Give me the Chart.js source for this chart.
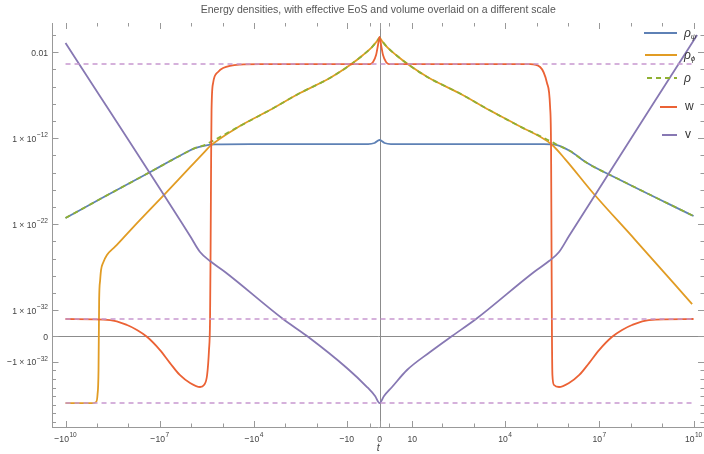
<!DOCTYPE html>
<html>
<head>
<meta charset="utf-8">
<script src="https://cdn.jsdelivr.net/npm/chart.js@4.4.1/dist/chart.umd.min.js"></script>
<style>
  html, body { margin: 0; padding: 0; background: #fff; }
  canvas { display: block; }
</style>
</head>
<body>
<canvas id="chart" width="704" height="454"></canvas>
<script>
// ---- data (t, value) ----
const psiT   = [-1e10, -7.9e8, -2e7, -4.7e6, -1.56e6, -7.5e5, -3.6e5, -1.7e5, -1.3e4, -1.3, -0.44, 0, 0.44, 1.3, 1.3e4, 1.7e5, 4.5e5, 1.17e6, 4.1e6, 4.6e7, 1e10];
const psiRho = [5.2e-22, 8.5e-20, 1.2e-16, 2.2e-15, 1.9e-14, 7.2e-14, 1.4e-13, 1.9e-13, 2.1e-13, 2.1e-13, 2.8e-13, 6.2e-13, 2.8e-13, 2.1e-13, 2.1e-13, 2.1e-13, 1.6e-13, 3.2e-14, 1.3e-15, 1.4e-17, 8.9e-22];

const phiT   = [-1e10, -1.3e9, -1.07e9, -9.6e8, -8.9e8, -8.5e8, -7.9e8, -7.4e8, -6.4e8, -4.8e8, -2.6e8, -1.1e8, -5.3e7, -7.8e6, -1.08e6, -3.6e5, -2.5e5, -2.8e4, -3.1e3, -340, -37, -7.7, -2.35, -0.74, -0.2, 0, 0.2, 0.74, 2.35, 7.7, 37, 340, 3.1e3, 2.8e4, 2.9e5, 8.1e5, 6.3e6, 1.4e8, 9e9];
const phiRho = [-6.2e-28, -6.2e-28, -4.7e-28, -7.2e-29, -8.9e-32, 1.5e-31, 3.2e-29, 4.7e-28, 3.1e-27, 2.6e-26, 2.6e-25, 7.6e-24, 1.3e-22, 2e-19, 4.3e-16, 3e-14, 1.2e-13, 2.6e-11, 1.9e-9, 1.8e-7, 1e-5, 3.2e-4, 4.7e-3, 4e-2, 0.2, 0.45, 0.2, 4e-2, 4.7e-3, 3.2e-4, 1e-5, 1.8e-7, 1.9e-9, 2.6e-11, 2.1e-13, 3.8e-15, 4.3e-19, 1.45e-24, 5.2e-32];

const rhoT   = [-1e10, -7.9e8, -2e7, -4.7e6, -1.56e6, -7.5e5, -3.6e5, -2.5e5, -2.8e4, -3.1e3, -340, -37, -7.7, -2.35, -0.74, -0.2, 0, 0.2, 0.74, 2.35, 7.7, 37, 340, 3.1e3, 2.8e4, 2.9e5, 4.5e5, 1.17e6, 4.1e6, 4.6e7, 1e10];
const rhoTot = [5.2e-22, 8.5e-20, 1.2e-16, 2.2e-15, 1.9e-14, 7.2e-14, 1.7e-13, 3.3e-13, 2.6e-11, 1.9e-9, 1.8e-7, 1e-5, 3.2e-4, 4.7e-3, 4e-2, 0.2, 0.45, 0.2, 4e-2, 4.7e-3, 3.2e-4, 1e-5, 1.8e-7, 1.9e-9, 2.6e-11, 4.2e-13, 1.7e-13, 3.2e-14, 1.3e-15, 1.4e-17, 8.9e-22];

const wT   = [-1e10, -3.8e8, -1.1e8, -5.3e7, -2.5e7, -9.8e6, -4.7e6, -2.3e6, -1.08e6, -5.2e5, -3.9e5, -3.1e5, -2.7e5, -2.5e5, -2.4e5, -2.3e5, -2.24e5, -2e5, -1.39e5, -9.6e4, -2.8e4, -6.4e3, -1, -0.61, -0.29, -0.12, 0,
              0.12, 0.29, 0.61, 1, 6.9e3, 6.3e4, 1.3e5, 2.15e5, 2.7e5, 2.9e5, 3e5, 3.1e5, 3.2e5, 3.6e5, 5.2e5, 1.08e6, 2.3e6, 4.7e6, 9.8e6, 2.5e7, 5.3e7, 1.1e8, 3.8e8, 1e10];
const wVal = [9.4e-34, 7.1e-34, 1.8e-34, 4e-35, -3e-36, -4.2e-34, -1.4e-32, -3.4e-31, -2.9e-30, -8.5e-30, -5e-30, -3.4e-31, -4.2e-34, 7.1e-34, 1e-25, 4.3e-14, 1.9e-9, 2.6e-6, 5e-5, 1.45e-4, 3.7e-4, 4.2e-4, 4.2e-4, 7.2e-4, 4.7e-3, 6.9e-2, 0.59,
              6.9e-2, 4.7e-3, 7.2e-4, 4.2e-4, 4.2e-4, 4.2e-4, 1.9e-4, 2.6e-6, 4.2e-9, 4.3e-14, 1e-25, -1.9e-35, -3.4e-31, -5e-30, -8.5e-30, -2.9e-30, -3.4e-31, -1.4e-32, -4.2e-34, -3e-36, 4e-35, 1.8e-34, 7.1e-34, 9.4e-34];

const vT   = [-1e10, -1.08e6, -5.2e5, -2.5e5, -8.3e4, -1.18e3, -203, -10, -1.5, -0.39, 0, 0.39, 1.5, 6.5, 39.7, 203, 1.18e3, 8.3e4, 2.5e5, 5.2e5, 1.08e6, 1.3e10];
const vVal = [0.12, 4.3e-24, 5.9e-26, 5.2e-27, 2.8e-28, 9.4e-34, 0, -5.2e-32, -8.5e-30, -9.5e-29, -6.2e-28, -9.5e-29, -8.5e-30, -8.9e-32, -7.1e-34, 0, 9.4e-34, 2.8e-28, 5.2e-27, 5.9e-26, 4.3e-24, 1.0];

// dashed reference levels, drawn across the data range
const refLevels = [4.2e-4, 9.4e-34, -6.2e-28];
const refRange = [-1e10, 1e10];

// axes: tick values and labels as [base, superscript]
const xTickValues = [-1e10, -1e7, -1e4, -10, 0, 10, 1e4, 1e7, 1e10];
const xTickLabels = [["−10", "10"], ["−10", "7"], ["−10", "4"], ["−10", ""], ["0", ""], ["10", ""], ["10", "4"], ["10", "7"], ["10", "10"]];
const xMinorTicks = [-1e9, -1e8, -1e6, -1e5, -1e3, -100, -1, 1, 100, 1e3, 1e5, 1e6, 1e8, 1e9];
const yTickValues = [0.01, 1e-12, 1e-22, 1e-32, 0, -1e-32];
const yTickLabels = [["0.01", ""], ["1 × 10", "−12"], ["1 × 10", "−22"], ["1 × 10", "−32"], ["0", ""], ["−1 × 10", "−32"]];
const yMinorTicks = [1, 1e-4, 1e-6, 1e-8, 1e-10, 1e-14, 1e-16, 1e-18, 1e-20, 1e-24, 1e-26, 1e-28, 1e-30,
                     -1e-31, -1e-30, -1e-29, -1e-28, -1e-27, -1e-26, -1e-25];

const seriesNames = ["ρψ", "ρϕ", "ρ", "w", "v"];
const colors = ["#5E81B5", "#E19C24", "#8FB032", "#EB6235", "#8778B3"];
const refColor = "rgb(200,152,208)";
const FONT = "'Liberation Sans', Arial, sans-serif";

// sign(v) * log10(1 + |v|/c) scale
class SymlogScale extends Chart.Scale {
  determineDataLimits() {
    this.min = this.options.min;
    this.max = this.options.max;
  }
  buildTicks() { return []; }
  fwd(v) {
    const c = this.options.threshold;
    return Math.sign(v) * Math.log10(1 + Math.abs(v) / c);
  }
  configure() {
    super.configure();
    this._lo = this.fwd(this.min);
    this._span = this.fwd(this.max) - this._lo;
  }
  getPixelForValue(v) {
    return this.getPixelForDecimal((this.fwd(v) - this._lo) / this._span);
  }
  getValueForPixel(p) {
    const f = this._lo + this.getDecimalForPixel(p) * this._span;
    return Math.sign(f) * this.options.threshold * (Math.pow(10, Math.abs(f)) - 1);
  }
  getLabelForValue(v) { return String(v); }
}
SymlogScale.id = "symlog";
SymlogScale.defaults = {};
Chart.register(SymlogScale);

function pts(ts, vs) {
  return ts.map((t, i) => ({ x: t, y: vs[i] }));
}

function series(i, ts, vs, order, dash) {
  return {
    label: seriesNames[i],
    data: pts(ts, vs),
    borderColor: colors[i],
    borderWidth: 1.8,
    borderDash: dash || [],
    pointRadius: 0,
    cubicInterpolationMode: "monotone",
    fill: false,
    order: order
  };
}

const datasets = [
  series(0, psiT, psiRho, 6),
  series(1, phiT, phiRho, 5),
  series(2, rhoT, rhoTot, 4, [5, 4]),
  series(3, wT, wVal, 3),
  series(4, vT, vVal, 2)
];
refLevels.forEach((lv) => {
  datasets.push({
    label: "ref",
    data: pts(refRange, [lv, lv]),
    borderColor: refColor,
    borderWidth: 1.4,
    borderDash: [5, 4],
    pointRadius: 0,
    fill: false,
    order: 1
  });
});

// legend rows: line start, row y
const legendRows = [
  { x0: 644, y: 33 },
  { x0: 645, y: 55 },
  { x0: 647, y: 78 },
  { x0: 660, y: 107 },
  { x0: 662, y: 135 }
];

// tick label with a raised exponent, slightly condensed like the original
function drawTickLabel(ctx, label, x, y, align) {
  const sx = 0.88;
  const base = "9.8px " + FONT, sup = "7.5px " + FONT;
  ctx.font = base;
  const wb = ctx.measureText(label[0]).width;
  ctx.font = sup;
  const ws = label[1] ? ctx.measureText(label[1]).width + 0.5 : 0;
  const total = (wb + ws) * sx;
  const left = align === "center" ? x - total / 2 : x - total;
  ctx.save();
  ctx.translate(left, y);
  ctx.scale(sx, 1);
  ctx.font = base;
  ctx.fillText(label[0], 0, 0);
  if (label[1]) {
    ctx.font = sup;
    ctx.fillText(label[1], wb + 0.5, -4.5);
  }
  ctx.restore();
}

const framePlugin = {
  id: "frame",
  beforeDatasetsDraw(chart) {
    const { ctx, chartArea: a } = chart;
    const x = chart.scales.x, y = chart.scales.y;
    ctx.save();
    ctx.strokeStyle = "#8c8c8c";
    ctx.lineWidth = 1;
    const x0 = Math.round(x.getPixelForValue(0)) + 0.5;
    const y0 = Math.round(y.getPixelForValue(0)) + 0.5;
    ctx.beginPath();
    ctx.moveTo(a.left, y0); ctx.lineTo(a.right, y0);
    ctx.moveTo(x0, a.top); ctx.lineTo(x0, a.bottom);
    ctx.stroke();

    ctx.strokeStyle = "#999";
    ctx.beginPath();
    const xt = (v, len) => {
      const p = Math.round(x.getPixelForValue(v)) + 0.5;
      ctx.moveTo(p, a.bottom); ctx.lineTo(p, a.bottom - len);
      ctx.moveTo(p, a.top); ctx.lineTo(p, a.top + len);
    };
    const yt = (v, len) => {
      const p = Math.round(y.getPixelForValue(v)) + 0.5;
      ctx.moveTo(a.left, p); ctx.lineTo(a.left + len, p);
      ctx.moveTo(a.right, p); ctx.lineTo(a.right - len, p);
    };
    xTickValues.forEach((v) => xt(v, 6));
    xMinorTicks.forEach((v) => xt(v, 3.5));
    yTickValues.forEach((v) => yt(v, 6));
    yMinorTicks.forEach((v) => yt(v, 3.5));
    ctx.stroke();

    // tick labels
    ctx.fillStyle = "#444";
    ctx.textBaseline = "alphabetic";
    ctx.textAlign = "left";
    xTickValues.forEach((v, i) => drawTickLabel(ctx, xTickLabels[i], x.getPixelForValue(v), a.bottom + 14.5, "center"));
    yTickValues.forEach((v, i) => drawTickLabel(ctx, yTickLabels[i], a.left - 4.5, y.getPixelForValue(v) + 3.5, "right"));
    ctx.restore();
  },
  afterDraw(chart) {
    const ctx = chart.ctx;
    ctx.save();
    legendRows.forEach((row, i) => {
      ctx.strokeStyle = colors[i];
      ctx.lineWidth = 2;
      ctx.setLineDash(i === 2 ? [5, 4] : []);
      ctx.beginPath();
      ctx.moveTo(row.x0, row.y);
      ctx.lineTo(677, row.y);
      ctx.stroke();
      ctx.setLineDash([]);
      ctx.fillStyle = "#333";
      ctx.textBaseline = "middle";
      const name = seriesNames[i];
      if (name.startsWith("ρ")) {
        ctx.font = "italic 12px " + FONT;
        ctx.fillText("ρ", 684, row.y + 1);
        if (name.length > 1) {
          const w = ctx.measureText("ρ").width;
          ctx.font = "italic 8px " + FONT;
          ctx.fillText(name.slice(1), 684 + w, row.y + 4);
        }
      } else {
        ctx.font = "12px " + FONT;
        ctx.fillText(name, 685, row.y);
      }
    });
    ctx.restore();
  }
};

new Chart(document.getElementById("chart"), {
  type: "line",
  data: { datasets: datasets },
  options: {
    responsive: false,
    animation: false,
    events: [],
    layout: { padding: 0 },
    plugins: {
      legend: { display: false },
      tooltip: { enabled: false },
      title: {
        display: true,
        fullSize: false,
        text: "Energy densities, with effective EoS and volume overlaid on a different scale",
        color: "#555",
        font: { family: FONT, size: 10.5, weight: "normal", lineHeight: 1.2 },
        padding: { top: 4, bottom: 6.4 }
      }
    },
    scales: {
      x: {
        type: "symlog",
        position: "bottom",
        threshold: 1,
        min: -2.6e10,
        max: 2.15e10,
        afterBuildTicks: (s) => { s.ticks = xTickValues.map((v) => ({ value: v })); },
        afterFit: (s) => { s.height = 27; s.paddingLeft = 0; s.paddingRight = 0; },
        ticks: { display: false },
        grid: { display: false, drawTicks: false },
        border: { display: true, color: "#999", width: 1 },
        title: {
          display: true,
          text: "t",
          color: "#444",
          font: { family: FONT, size: 10.5, style: "italic" },
          padding: { top: 0, bottom: 0 }
        }
      },
      y: {
        type: "symlog",
        position: "left",
        threshold: 1e-35,
        min: -3.8e-25,
        max: 25,
        afterBuildTicks: (s) => { s.ticks = yTickValues.map((v) => ({ value: v })); },
        afterFit: (s) => { s.width = 52.5; s.paddingTop = 0; s.paddingBottom = 0; },
        ticks: { display: false },
        grid: { display: false, drawTicks: false },
        border: { display: true, color: "#999", width: 1 }
      }
    }
  },
  plugins: [framePlugin]
});
</script>
</body>
</html>
